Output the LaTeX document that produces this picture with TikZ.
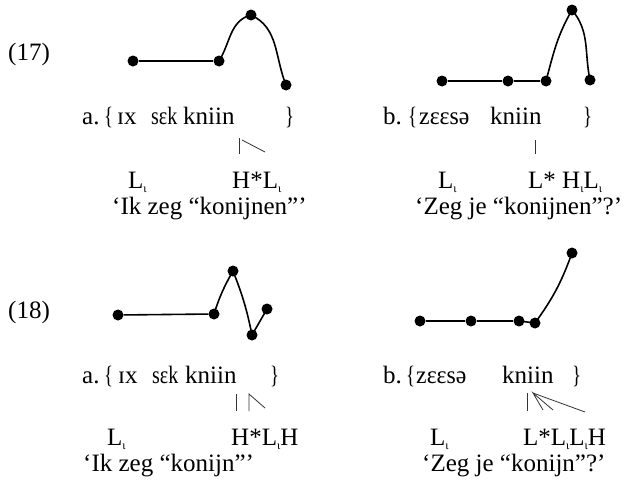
\documentclass[tikz,border=0pt]{standalone}
\usepackage{fontspec}
\setmainfont{Liberation Serif}
\newcommand{\iosub}{\raisebox{-0.4ex}{\fontsize{12}{12}\selectfont ι}}
\newcommand{\lbr}{\scalebox{0.75}[1]{\{}}
\newcommand{\rbr}{\scalebox{0.75}[1]{\}}}
\begin{document}
\begin{tikzpicture}[x=1pt,y=-1pt,
  txt/.style={inner sep=0pt, anchor=base west, font=\fontsize{25}{29}\selectfont, text=black},
  tone/.style={txt, text height=16pt, text depth=3pt},
  gloss/.style={txt, text height=16pt, text depth=5pt},
  dot/.style={circle, fill=black, minimum size=11pt, inner sep=0pt},
  contour/.style={line width=1.6pt},
  assoc/.style={line width=0.8pt, black!80}]
\useasboundingbox (0,0) rectangle (634,479);

% ---------- (17) ----------
\node[txt] (n17) at (8,60) {(17)};
% 17a contour
\node[dot] (a1) at (133,61) {};
\node[dot] (a2) at (219,61) {};
\node[dot] (a3) at (251,15) {};
\node[dot] (a4) at (286,85) {};
\draw[contour] (a1) -- (a2);
\draw[contour] (a2.center) to[out=58,in=195] (a3.center) to[out=-25,in=112] (a4.center);
% 17a text
\node[txt] (a-lab) at (82,124) {a.};
\node[txt] (a-br1) at (104,124) {\lbr};
\node[txt] (a-w1) at (117,124) {ɪx};
\node[txt] (a-w2) at (151,124) {\scalebox{0.8}[1]{sɛk}};
\node[txt] (a-w3) at (183,124) {kniin};
\node[txt] (a-br2) at (285,124) {\rbr};
\coordinate (a-b1t) at (239,138); \coordinate (a-b1b) at (239,154);
\coordinate (a-d1t) at (242,140); \coordinate (a-d1b) at (265,152);
\draw[assoc] (a-b1t) -- (a-b1b);
\draw[assoc] (a-d1t) -- (a-d1b);
\node[tone] (a-t1) at (128,188) {L\iosub};
\node[tone] (a-t2) at (232,188) {H*L\iosub};
\node[gloss] (a-gl) at (112,214) {‘Ik zeg “konijnen”’};

% 17b contour
\node[dot] (b1) at (442,81) {};
\node[dot] (b2) at (508,81) {};
\node[dot] (b3) at (546,81) {};
\node[dot] (b4) at (572,10) {};
\node[dot] (b5) at (590,80) {};
\draw[contour] (b1) -- (b2) -- (b3);
\draw[contour] (b3.center) to[out=75,in=240] (b4.center) to[out=-50,in=102] (b5.center);
% 17b text
\node[txt] (b-lab) at (383,124) {b.};
\node[txt] (b-br1) at (408,124) {\lbr};
\node[txt] (b-w1) at (419,124) {\scalebox{0.95}[1]{zɛɛsə}};
\node[txt] (b-w2) at (490,124) {kniin};
\node[txt] (b-br2) at (583,124) {\rbr};
\coordinate (b-b1t) at (535,140); \coordinate (b-b1b) at (535,154);
\draw[assoc] (b-b1t) -- (b-b1b);
\node[tone] (b-t1) at (438,188) {L\iosub};
\node[tone] (b-t2) at (528,188) {L* H\iosub L\iosub};
\node[gloss] (b-gl) at (415,214) {‘Zeg je “konijnen”?’};

% ---------- (18) ----------
\node[txt] (n18) at (8,318) {(18)};
% 18a contour
\node[dot] (c1) at (118,315) {};
\node[dot] (c2) at (214,314) {};
\node[dot] (c3) at (233,271) {};
\node[dot] (c4) at (252,335) {};
\node[dot] (c5) at (267,309) {};
\draw[contour] (c1) -- (c2);
\draw[contour] (c2.center) to[bend left=6] (c3.center) to[bend left=5] (c4.center) -- (c5.center);
% 18a text
\node[txt] (c-lab) at (82,383) {a.};
\node[txt] (c-br1) at (104,383) {\lbr};
\node[txt] (c-w1) at (118,383) {ɪx};
\node[txt] (c-w2) at (152,383) {\scalebox{0.8}[1]{sɛk}};
\node[txt] (c-w3) at (185,383) {kniin};
\node[txt] (c-br2) at (270,383) {\rbr};
\coordinate (c-b1t) at (236,394); \coordinate (c-b1b) at (236,411);
\coordinate (c-b2t) at (249,394); \coordinate (c-b2b) at (249,411);
\coordinate (c-d1b) at (265,408);
\draw[assoc] (c-b1t) -- (c-b1b);
\draw[assoc] (c-b2b) -- (c-b2t) -- (c-d1b);
\node[tone] (c-t1) at (107,445) {L\iosub};
\node[tone] (c-t2) at (231,445) {H*L\iosub H};
\node[gloss] (c-gl) at (83,471) {‘Ik zeg “konijn”’};

% 18b contour
\node[dot] (d1) at (420,321) {};
\node[dot] (d2) at (471,321) {};
\node[dot] (d3) at (519,321) {};
\node[dot] (d4) at (535,323) {};
\node[dot] (d5) at (572,253) {};
\draw[contour] (d1) -- (d2) -- (d3);
\draw[contour] (d3.center) -- (d4.center) to[bend right=8] (d5.center);
% 18b text
\node[txt] (d-lab) at (383,383) {b.};
\node[txt] (d-br1) at (406,383) {\lbr};
\node[txt] (d-w1) at (416,383) {\scalebox{0.95}[1]{zɛɛsə}};
\node[txt] (d-w2) at (502,383) {kniin};
\node[txt] (d-br2) at (572,383) {\rbr};
\coordinate (d-b1t) at (527,393); \coordinate (d-b1b) at (527,411);
\coordinate (d-f) at (533,393);
\coordinate (d-f1) at (543,410); \coordinate (d-f2) at (553,410); \coordinate (d-f3) at (585,412);
\draw[assoc] (d-b1t) -- (d-b1b);
\draw[assoc] (d-f1) -- (d-f) -- (d-f2);
\draw[assoc] (d-f) -- (d-f3);
\node[tone] (d-t1) at (430,445) {L\iosub};
\node[tone] (d-t2) at (523,445) {L*L\iosub L\iosub H};
\node[gloss] (d-gl) at (422,471) {‘Zeg je “konijn”?’};
\end{tikzpicture}
\end{document}
